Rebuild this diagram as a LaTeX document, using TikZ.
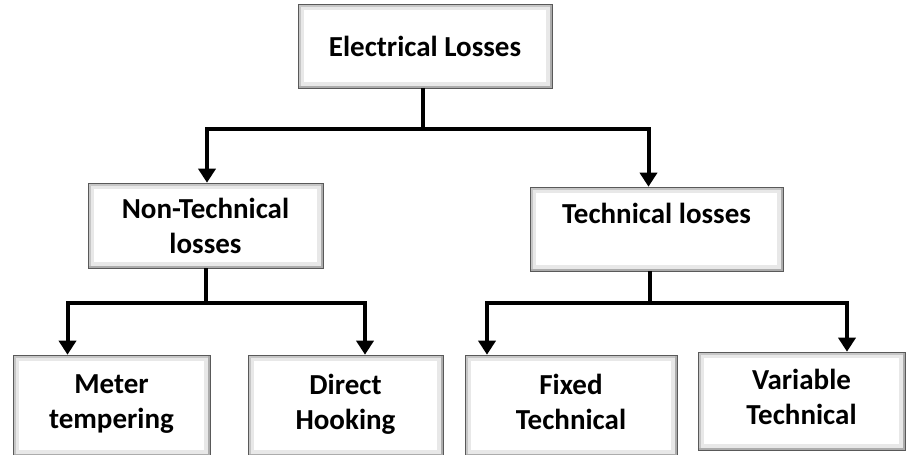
\documentclass[tikz,border=0pt]{standalone}
\usepackage{fontspec}
\setmainfont{Carlito}
\usetikzlibrary{arrows.meta}

\tikzset{
  lossbox/.style={draw=gray!70!black, line width=0.6pt, fill=white, align=center,
    font=\fontsize{29}{35}\selectfont\bfseries, inner sep=0pt,
    path picture={
      \draw[gray!18, line width=12pt] (path picture bounding box.south west) rectangle (path picture bounding box.north east);
      \draw[gray!45, line width=5pt] (path picture bounding box.south west) rectangle (path picture bounding box.north east);
      \draw[gray!65, line width=4pt] (path picture bounding box.north east) -- (path picture bounding box.south east) -- (path picture bounding box.south west);
    }},
  leafbox/.style={lossbox, minimum height=101pt, text depth=8pt},
  flow/.style={line width=4pt, -{Triangle[width=17pt,length=14pt]}},
  stem/.style={line width=4pt}
}

\begin{document}
\begin{tikzpicture}[x=1pt, y=-1pt]
            %\draw[step=50,gray,very thin] (0,0) grid (906,455);
            \useasboundingbox (0,0) rectangle (906,455);

            \node[lossbox, minimum width=254pt, minimum height=84pt] (elec) at (425,46) {Electrical Losses};

            \node[lossbox, minimum width=235pt, minimum height=85pt] (nontech) at (205.5,225.5) {Non-Technical\\losses};
            \node[lossbox, minimum width=253pt, minimum height=84pt, text depth=31pt] (tech) at (656.5,229) {Technical losses};

            \node[leafbox, minimum width=197pt] (meter) at (111.5,405.5) {Meter\\tempering};
            \node[leafbox, minimum width=195pt] (direct) at (345.5,405.5) {Direct\\Hooking};
            \node[leafbox, minimum width=212pt] (fixed) at (571,405.5) {Fixed\\Technical};
            \node[leafbox, minimum width=207pt, minimum height=98pt] (variable) at (801.5,401) {Variable\\Technical};

            \draw[stem] ([xshift=-2pt]elec.south) -- ++(0,41) coordinate (j1);
            \draw[flow] (j1) -| ([xshift=1.5pt]nontech.north);
            \draw[flow] (j1) -| ([xshift=-8pt]tech.north);

            \draw[stem] (nontech.south) -- ++(0,35) coordinate (j2);
            \draw[flow] (j2) -| ([xshift=-44pt]meter.north);
            \draw[flow] (j2) -| ([xshift=19.5pt]direct.north);

            \draw[stem] ([xshift=-7pt]tech.south) -- ++(0,32) coordinate (j3);
            \draw[flow] (j3) -| ([xshift=-84pt]fixed.north);
            \draw[flow] (j3) -| ([xshift=45.5pt]variable.north);
        \end{tikzpicture}
\end{document}
